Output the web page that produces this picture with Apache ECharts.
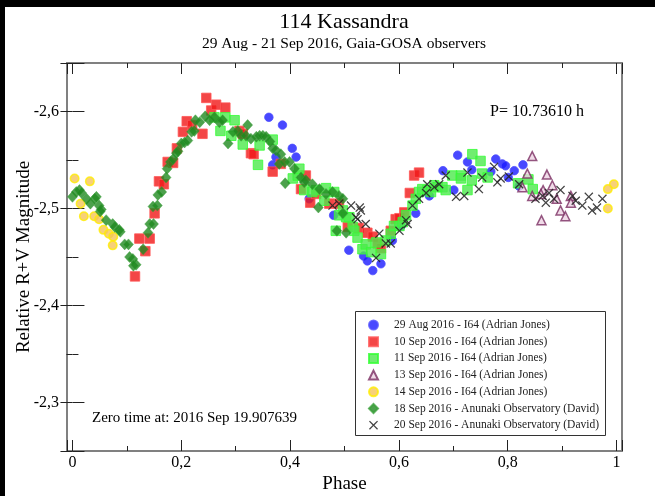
<!DOCTYPE html>
<html>
<head>
<meta charset="utf-8">
<script src="https://cdn.jsdelivr.net/npm/echarts@6/dist/echarts.min.js"></script>
<style>
html, body { margin: 0; padding: 0; background: #fff; }
#chart { width: 655px; height: 496px; }
</style>
</head>
<body>
<div id="chart"></div>
<script>
// series names (legend order)
var names = [
    '29 Aug 2016 - I64 (Adrian Jones)',
    '10 Sep 2016 - I64 (Adrian Jones)',
    '11 Sep 2016 - I64 (Adrian Jones)',
    '13 Sep 2016 - I64 (Adrian Jones)',
    '14 Sep 2016 - I64 (Adrian Jones)',
    '18 Sep 2016 - Anunaki Observatory (David)',
    '20 Sep 2016 - Anunaki Observatory (David)'
];

// [phase, relative magnitude]
var aug29 = [
    [0.361,-2.594],[0.386,-2.586],[0.404,-2.562],[0.411,-2.553],[0.374,-2.553],[0.368,-2.545],
    [0.435,-2.510],[0.480,-2.493],[0.508,-2.457],[0.535,-2.451],[0.542,-2.446],[0.552,-2.436],
    [0.567,-2.443],[0.588,-2.467],[0.604,-2.482],[0.631,-2.495],[0.656,-2.513],[0.681,-2.539],
    [0.701,-2.519],[0.708,-2.555],[0.726,-2.548],[0.734,-2.540],[0.769,-2.538],[0.778,-2.551],
    [0.790,-2.546],[0.796,-2.544],[0.801,-2.532],[0.812,-2.539],[0.821,-2.523],[0.828,-2.545]
];
var sep10 = [
    [0.115,-2.430],[0.123,-2.469],[0.142,-2.469],[0.134,-2.456],[0.151,-2.495],[0.159,-2.528],
    [0.168,-2.525],[0.175,-2.548],[0.185,-2.547],[0.192,-2.562],[0.203,-2.579],[0.210,-2.590],
    [0.220,-2.586],[0.239,-2.577],[0.246,-2.614],[0.255,-2.601],[0.264,-2.607],[0.281,-2.604],
    [0.307,-2.580],[0.313,-2.577],[0.328,-2.557],[0.333,-2.556],[0.368,-2.538],[0.383,-2.546],
    [0.420,-2.520],[0.429,-2.534],[0.437,-2.506],[0.448,-2.515],[0.472,-2.505],[0.490,-2.505],
    [0.506,-2.481],[0.526,-2.480],[0.542,-2.475],[0.552,-2.471],[0.561,-2.464],[0.567,-2.459],
    [0.585,-2.477],[0.594,-2.489],[0.601,-2.490],[0.610,-2.496],[0.620,-2.516],[0.628,-2.534],
    [0.637,-2.537]
];
var sep11 = [
    [0.261,-2.594],[0.281,-2.594],[0.298,-2.591],[0.272,-2.580],[0.292,-2.575],[0.313,-2.566],
    [0.341,-2.545],[0.344,-2.565],[0.368,-2.571],[0.405,-2.531],[0.414,-2.534],[0.417,-2.541],
    [0.426,-2.519],[0.448,-2.519],[0.441,-2.517],[0.463,-2.508],[0.466,-2.521],[0.481,-2.517],
    [0.490,-2.493],[0.497,-2.498],[0.503,-2.491],[0.484,-2.477],[0.509,-2.491],[0.515,-2.481],
    [0.518,-2.477],[0.524,-2.470],[0.533,-2.458],[0.539,-2.463],[0.549,-2.455],[0.558,-2.465],
    [0.567,-2.453],[0.576,-2.467],[0.585,-2.474],[0.591,-2.482],[0.601,-2.482],[0.607,-2.486],
    [0.613,-2.493],[0.625,-2.503],[0.631,-2.510],[0.637,-2.517],[0.643,-2.520],[0.652,-2.519],
    [0.659,-2.517],[0.665,-2.524],[0.671,-2.522],[0.680,-2.522],[0.686,-2.519],[0.698,-2.534],
    [0.714,-2.534],[0.714,-2.531],[0.726,-2.519],[0.734,-2.529],[0.735,-2.556],[0.750,-2.549],
    [0.753,-2.536],[0.763,-2.532],[0.819,-2.526],[0.838,-2.530],[0.846,-2.520]
];
var sep13 = [
    [0.845,-2.554],[0.836,-2.536],[0.872,-2.535],[0.827,-2.522],[0.882,-2.524],[0.865,-2.519],
    [0.861,-2.515],[0.845,-2.513],[0.890,-2.510],[0.916,-2.513],[0.916,-2.506],[0.897,-2.498],
    [0.906,-2.492],[0.862,-2.488]
];
var sep14 = [
    [0.004,-2.531],[0.032,-2.528],[0.015,-2.505],[0.021,-2.492],[0.040,-2.492],[0.049,-2.489],
    [0.057,-2.478],[0.067,-2.474],[0.075,-2.471],[0.074,-2.462],[0.995,-2.525],[0.984,-2.520],
    [0.984,-2.500]
];
var sep18 = [
    [0.000,-2.512],[0.007,-2.517],[0.013,-2.519],[0.017,-2.516],[0.026,-2.510],[0.033,-2.505],
    [0.041,-2.510],[0.044,-2.512],[0.049,-2.503],[0.051,-2.497],[0.053,-2.499],[0.062,-2.488],
    [0.074,-2.484],[0.078,-2.481],[0.086,-2.478],[0.088,-2.476],[0.096,-2.463],[0.103,-2.463],
    [0.105,-2.450],[0.111,-2.448],[0.117,-2.442],[0.112,-2.441],[0.130,-2.458],[0.139,-2.475],
    [0.142,-2.484],[0.149,-2.484],[0.148,-2.502],[0.156,-2.503],[0.157,-2.514],[0.164,-2.517],
    [0.172,-2.532],[0.174,-2.541],[0.180,-2.548],[0.185,-2.551],[0.191,-2.557],[0.194,-2.559],
    [0.200,-2.567],[0.206,-2.568],[0.212,-2.570],[0.219,-2.579],[0.224,-2.580],[0.226,-2.591],
    [0.234,-2.589],[0.244,-2.595],[0.252,-2.591],[0.261,-2.594],[0.270,-2.589],[0.276,-2.591],
    [0.286,-2.567],[0.295,-2.579],[0.304,-2.580],[0.310,-2.575],[0.322,-2.586],[0.319,-2.575],
    [0.328,-2.572],[0.338,-2.574],[0.344,-2.575],[0.350,-2.575],[0.356,-2.574],[0.363,-2.569],
    [0.368,-2.562],[0.374,-2.560],[0.383,-2.556],[0.380,-2.546],[0.390,-2.548],[0.399,-2.548],
    [0.408,-2.541],[0.391,-2.526],[0.420,-2.532],[0.426,-2.527],[0.429,-2.529],[0.441,-2.525],
    [0.454,-2.520],[0.452,-2.501],[0.466,-2.515],[0.478,-2.517],[0.490,-2.513],[0.497,-2.510],
    [0.497,-2.495],[0.486,-2.477],[0.503,-2.475]
];
var sep20 = [
    [0.478,-2.503],[0.490,-2.505],[0.512,-2.503],[0.528,-2.501],[0.530,-2.498],[0.521,-2.491],
    [0.524,-2.489],[0.539,-2.484],[0.564,-2.474],[0.576,-2.464],[0.585,-2.464],[0.558,-2.449],
    [0.601,-2.477],[0.613,-2.488],[0.616,-2.484],[0.625,-2.503],[0.637,-2.510],[0.650,-2.516],
    [0.652,-2.525],[0.665,-2.522],[0.674,-2.525],[0.686,-2.534],[0.705,-2.512],[0.720,-2.513],
    [0.726,-2.537],[0.747,-2.520],[0.753,-2.532],[0.775,-2.543],[0.781,-2.527],[0.787,-2.531],
    [0.802,-2.533],[0.821,-2.525],[0.851,-2.510],[0.864,-2.513],[0.870,-2.506],[0.876,-2.516],
    [0.885,-2.510],[0.897,-2.519],[0.919,-2.513],[0.925,-2.508],[0.937,-2.503],[0.949,-2.512],
    [0.955,-2.498],[0.964,-2.501],[0.974,-2.510]
];

var FONT = 'Liberation Serif';
var crossPath = 'path://M0,1L1,0L5,4L9,0L10,1L6,5L10,9L9,10L5,6L1,10L0,9L4,5Z';

function fmtX(v) {
    if (v === 0 || v === 1) return String(v);
    return v.toFixed(1).replace('.', ',');
}
function fmtY(v) {
    return v.toFixed(1).replace('.', ',');
}

var tickStyle = { color: '#222', width: 1 };

function makeSeries(name, data, symbol, size, style) {
    return {
        name: name,
        type: 'scatter',
        symbol: symbol,
        symbolSize: size,
        itemStyle: style,
        data: data,
        xAxisIndex: 0,
        yAxisIndex: 0
    };
}

var option = {
    backgroundColor: '#fff',
    animation: false,
    title: [{
        text: '114 Kassandra',
        left: 344, top: 11, textAlign: 'center', padding: 0,
        textStyle: { fontFamily: FONT, fontSize: 22, fontWeight: 'normal', color: '#000' }
    }, {
        text: '29 Aug - 21 Sep 2016, Gaia-GOSA observers',
        left: 344, top: 36, textAlign: 'center', padding: 0,
        textStyle: { fontFamily: FONT, fontSize: 15.5, fontWeight: 'normal', color: '#000' }
    }],
    grid: {
        left: 67, right: 33, top: 63, bottom: 45,
        containLabel: false, outerBoundsMode: 'none',
        show: true, borderColor: '#808080', borderWidth: 2, backgroundColor: '#fff'
    },
    xAxis: [{
        type: 'value', min: -0.01, max: 1.01, splitNumber: 5,
        name: 'Phase', nameLocation: 'middle', nameGap: 24, nameMoveOverlap: false,
        nameTextStyle: { fontFamily: FONT, fontSize: 19, color: '#000' },
        axisLine: { show: false },
        axisTick: { inside: true, length: 11, lineStyle: tickStyle },
        minorTick: { show: true, splitNumber: 2, length: 5, lineStyle: tickStyle },
        splitLine: { show: false },
        axisLabel: {
            margin: 4, showMinLabel: false, showMaxLabel: false, formatter: fmtX,
            fontFamily: FONT, fontSize: 16, color: '#000'
        }
    }, {
        type: 'value', min: -0.01, max: 1.01, splitNumber: 5, position: 'top',
        axisLine: { show: false },
        axisTick: { inside: true, length: 11, lineStyle: tickStyle },
        minorTick: { show: true, splitNumber: 2, length: 5, lineStyle: tickStyle },
        splitLine: { show: false },
        axisLabel: { show: false }
    }],
    yAxis: [{
        type: 'value', min: -2.65, max: -2.25, splitNumber: 4, inverse: true,
        name: 'Relative R+V Magnitude', nameLocation: 'middle', nameGap: 33, nameMoveOverlap: false,
        nameTextStyle: { fontFamily: FONT, fontSize: 19, color: '#000' },
        axisLine: { show: false },
        axisTick: { inside: true, length: 12, lineStyle: tickStyle },
        minorTick: { show: true, splitNumber: 2, length: 6, lineStyle: tickStyle },
        splitLine: { show: false },
        axisLabel: {
            margin: 8, showMinLabel: false, showMaxLabel: false, formatter: fmtY,
            fontFamily: FONT, fontSize: 16, color: '#000'
        }
    }, {
        type: 'value', min: -2.65, max: -2.25, splitNumber: 4, inverse: true, position: 'right',
        axisLine: { show: false },
        axisTick: { inside: true, length: 12, lineStyle: tickStyle },
        minorTick: { show: true, splitNumber: 2, length: 6, lineStyle: tickStyle },
        splitLine: { show: false },
        axisLabel: { show: false }
    }],
    legend: {
        data: names,
        orient: 'vertical',
        left: 355, top: 311,
        padding: [8, 5, 5, 13],
        itemWidth: 9, itemHeight: 9, itemGap: 4.7,
        borderWidth: 0,
        z: 10,
        selectedMode: false,
        textStyle: { fontFamily: FONT, fontSize: 11.5, color: '#222', lineHeight: 9, padding: [0, 0, 0, 11] }
    },
    graphic: [
        { type: 'rect', z: 100, shape: { x: 0, y: 0, width: 655, height: 7 }, style: { fill: '#000' } },
        { type: 'rect', z: 100, shape: { x: 0, y: 0, width: 5, height: 496 }, style: { fill: '#000' } },
        { type: 'rect', z: 3, shape: { x: 355.5, y: 311.5, width: 250, height: 124 },
          style: { fill: '#fff', stroke: '#333', lineWidth: 1 } },
        { type: 'text', z: 5, x: 584, y: 111.5,
          style: { text: 'P= 10.73610 h', font: '16px "Liberation Serif"', fill: '#000', align: 'right', verticalAlign: 'middle' } },
        { type: 'text', z: 5, x: 92, y: 418,
          style: { text: 'Zero time at: 2016 Sep 19.907639', font: '15px "Liberation Serif"', fill: '#000', align: 'left', verticalAlign: 'middle' } }
    ],
    series: [
        makeSeries(names[0], aug29, 'circle', 8.5, { color: '#1a1aff', borderColor: '#4d4dff', borderWidth: 1 }),
        makeSeries(names[1], sep10, 'rect', 9.5, { color: '#f01818', borderColor: '#ff5555', borderWidth: 1 }),
        makeSeries(names[2], sep11, 'rect', 9.5, { color: '#4ce84c', borderColor: '#33ff33', borderWidth: 1 }),
        makeSeries(names[3], sep13, 'triangle', 9, { color: '#ecd2e2', borderColor: '#7b2d62', borderWidth: 1.5 }),
        makeSeries(names[4], sep14, 'circle', 8.5, { color: '#f5c458', borderColor: '#ffee00', borderWidth: 1.5 }),
        makeSeries(names[5], sep18, 'diamond', [10, 11], { color: '#1f8a1f', borderColor: '#3aa03a', borderWidth: 0.5 }),
        makeSeries(names[6], sep20, crossPath, 9, { color: '#222', opacity: 0.85 })
    ]
};

var myChart = echarts.init(document.getElementById('chart'), null, { renderer: 'canvas' });
myChart.setOption(option);
</script>
</body>
</html>
